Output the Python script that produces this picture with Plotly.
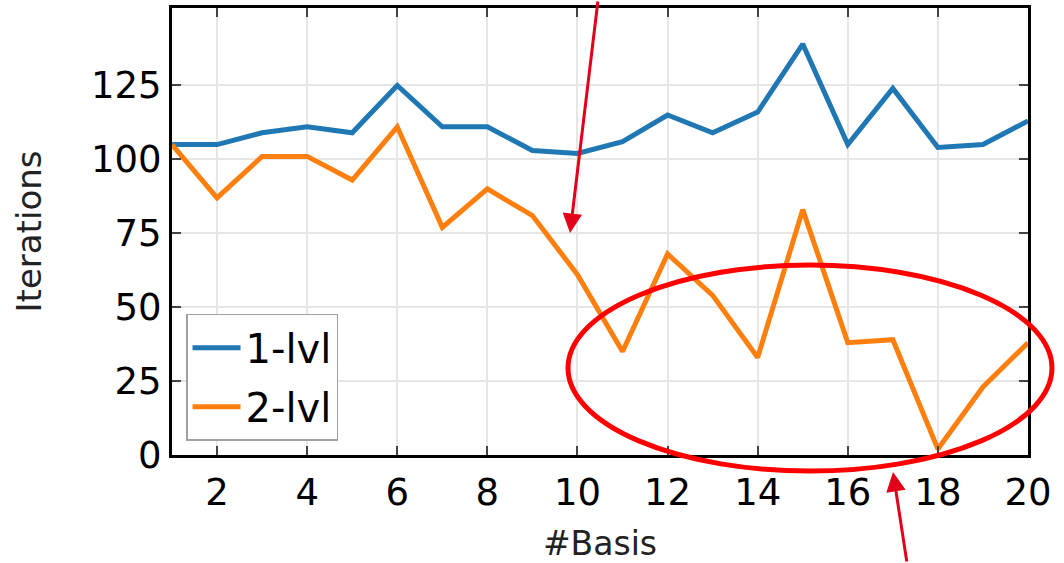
import plotly.graph_objects as go

basis = list(range(1, 21))
iters_1lvl = [105, 105, 109, 111, 109, 125, 111, 111, 103, 102, 106, 115, 109, 116, 139, 105, 124, 104, 105, 113]
iters_2lvl = [105, 87, 101, 101, 93, 111, 77, 90, 81, 61, 35, 68, 54, 33, 83, 38, 39, 2, 23, 38]
x_ticks = [2, 4, 6, 8, 10, 12, 14, 16, 18, 20]
y_ticks = [0, 25, 50, 75, 100, 125]

BLUE = "#1f77b4"
ORANGE = "#ff7f0e"
FONT = "DejaVu Sans"

fig = go.Figure()
fig.add_trace(go.Scatter(x=basis, y=iters_1lvl, mode="lines", name="1-lvl",
                         line=dict(color=BLUE, width=5), legendgroup="a"))
fig.add_trace(go.Scatter(x=basis, y=iters_2lvl, mode="lines", name="2-lvl",
                         line=dict(color=ORANGE, width=5), legendgroup="b"))

axis_common = dict(
    showline=True, linecolor="black", linewidth=3, mirror="ticks",
    ticks="inside", ticklen=9, tickwidth=1.5, tickcolor="#444",
    showgrid=True, gridcolor="#e6e6e6", gridwidth=1.5,
    zeroline=False, automargin=False,
    tickfont=dict(family=FONT, size=37, color="black"),
)

fig.update_xaxes(range=[1, 20], tickvals=x_ticks, ticklabelstandoff=3,
                 title=dict(text="#Basis", font=dict(family=FONT, size=33, color="#222"), standoff=22),
                 **axis_common)
fig.update_yaxes(range=[0, 151.2], tickvals=y_ticks,
                 title=dict(text="Iterations", font=dict(family=FONT, size=34, color="#222"), standoff=40),
                 **axis_common)

# Ellipse highlight (paper coordinates so it is not clipped)
fig.add_shape(type="circle", xref="paper", yref="paper",
              x0=0.4626, x1=1.028, y0=-0.036, y1=0.425,
              line=dict(color="#ff0000", width=5), layer="above")

ARROW = "#e2001a"
fig.add_annotation(xref="paper", yref="paper", x=0.465, y=0.4966, ax=28, ay=-236,
                   text="", showarrow=True, arrowhead=2, arrowsize=1.3, arrowwidth=3,
                   arrowcolor=ARROW, standoff=0)
fig.add_annotation(xref="paper", yref="paper", x=0.8423, y=-0.038, ax=14, ay=92,
                   text="", showarrow=True, arrowhead=2, arrowsize=1.3, arrowwidth=3,
                   arrowcolor=ARROW, standoff=0)

fig.update_layout(
    width=1064, height=563,
    margin=dict(l=172, r=36, t=8, b=108),
    paper_bgcolor="white", plot_bgcolor="white",
    legend=dict(x=0.0164, y=0.032, xanchor="left", yanchor="bottom",
                bgcolor="white", bordercolor="#a0a0a0", borderwidth=1.5,
                font=dict(family=FONT, size=40, color="black"),
                itemwidth=48, tracegroupgap=4),
    showlegend=True,
)

fig.write_html("out.html")
